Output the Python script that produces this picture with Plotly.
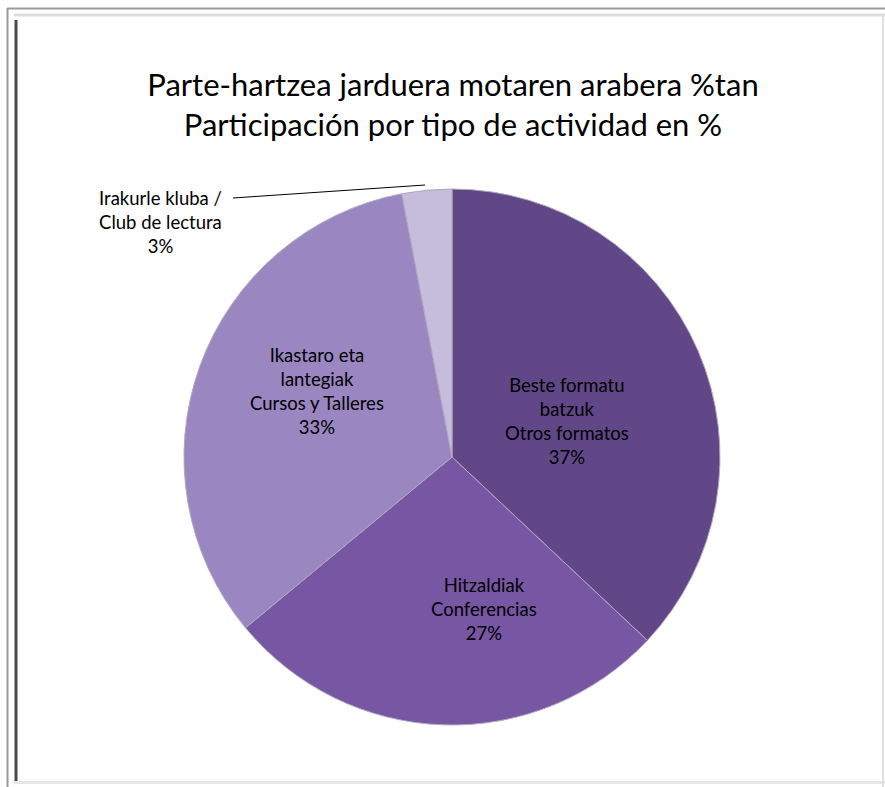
import plotly.graph_objects as go

W, H = 885, 787

categories = [
    "Beste formatu<br>batzuk<br>Otros formatos",
    "Hitzaldiak<br>Conferencias",
    "Ikastaro eta<br>lantegiak<br>Cursos y Talleres",
    "Irakurle kluba /<br>Club de lectura",
]
values = [37, 27, 33, 3]
colors = ["#614787", "#7756a3", "#9a86c0", "#c6bcdc"]

# label positions in pixels (x center, y center)
label_pos = [(567, 421), (484, 609), (317, 391), (160, 222)]

def px(x):
    return x / W

def py(y):
    return 1 - y / H

fig = go.Figure()
fig.add_trace(go.Pie(
    labels=categories,
    values=values,
    sort=False,
    direction="clockwise",
    rotation=0,
    textinfo="none",
    hoverinfo="label+percent",
    marker=dict(colors=colors, line=dict(color="#b0a8bc", width=1)),
    domain=dict(x=[px(184), px(720)], y=[py(725), py(189)]),
    showlegend=False,
))

total = sum(values)
annotations = []
for cat, v, (lx, ly) in zip(categories, values, label_pos):
    pct = round(100 * v / total)
    annotations.append(dict(
        x=px(lx), y=py(ly), xref="paper", yref="paper",
        text=f"{cat}<br>{pct}%", showarrow=False,
        font=dict(family="Lato, 'Open Sans', sans-serif", size=18.5, color="#000"),
        align="center", xanchor="center", yanchor="middle",
    ))

shapes = [
    # leader line for small slice
    dict(type="line", xref="paper", yref="paper", x0=px(233), y0=py(198), x1=px(425), y1=py(185),
         line=dict(color="#000", width=1)),
    # frame
    dict(type="line", xref="paper", yref="paper", x0=px(7.5), y0=py(8), x1=px(7.5), y1=py(787),
         line=dict(color="#9a9a9a", width=2)),
    dict(type="line", xref="paper", yref="paper", x0=px(16), y0=py(20), x1=px(16), y1=py(782),
         line=dict(color="#4a4a4a", width=3)),
    dict(type="line", xref="paper", yref="paper", x0=px(7), y0=py(8.5), x1=px(885), y1=py(8.5),
         line=dict(color="#9a9a9a", width=2)),
    dict(type="line", xref="paper", yref="paper", x0=px(14), y0=py(15), x1=px(885), y1=py(15),
         line=dict(color="#dddddd", width=3)),
    dict(type="line", xref="paper", yref="paper", x0=px(14), y0=py(782.5), x1=px(885), y1=py(782.5),
         line=dict(color="#e6e6e6", width=3)),
    dict(type="line", xref="paper", yref="paper", x0=px(883), y0=py(15), x1=px(883), y1=py(787),
         line=dict(color="#e0e0e0", width=2)),
]

fig.update_layout(
    width=W, height=H,
    margin=dict(l=0, r=0, t=0, b=0),
    paper_bgcolor="white",
    plot_bgcolor="white",
    title=dict(
        text="Parte-hartzea jarduera motaren arabera %tan<br>Participación por tipo de actividad en %",
        x=px(453), xanchor="center", y=py(96), yanchor="middle",
        font=dict(family="Lato, 'Open Sans', sans-serif", size=31, color="#000"),
    ),
    annotations=annotations,
    shapes=shapes,
)

fig.write_html("out.html", config=dict(displayModeBar=False))

# remove default body margin so the figure fills the window exactly
with open("out.html", "r", encoding="utf-8") as f:
    html = f.read()
html = html.replace("<body>", "<body style=\"margin:0;padding:0;overflow:hidden\">", 1)
with open("out.html", "w", encoding="utf-8") as f:
    f.write(html)
